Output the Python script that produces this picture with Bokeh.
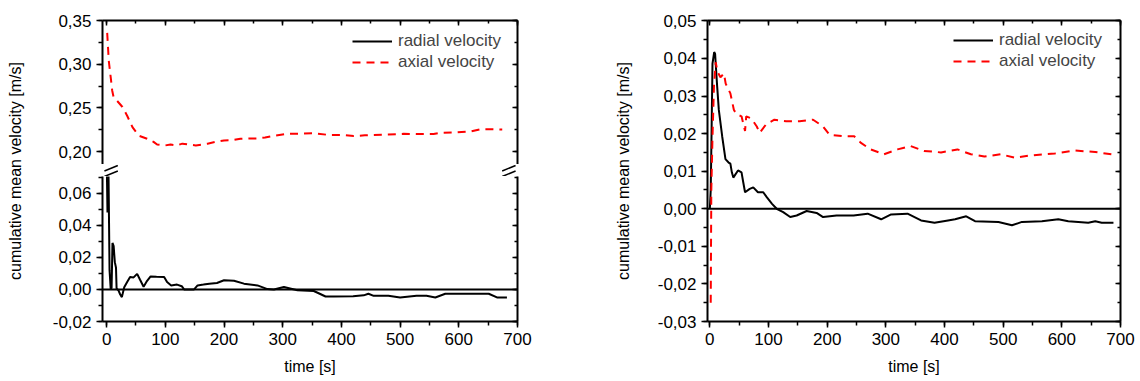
from bokeh.plotting import figure
from bokeh.layouts import row, column
from bokeh.models import (Range1d, LinearAxis, SingleIntervalTicker, CustomJSTickFormatter,
                          Span, Legend, LegendItem)
from bokeh.embed import file_html
from bokeh.resources import INLINE

# ---------------- data ----------------
# left panel, axial velocity [m/s]
t_ax_L = [1, 3.7, 7, 9.5, 12, 18, 27, 35, 44, 55, 69, 80, 86, 100, 109, 120, 129, 140,
          152, 162, 172, 185, 200, 215, 228, 245, 257, 270, 285, 308, 330, 353, 378, 400,
          421, 440, 455, 480, 506, 530, 557, 569, 595, 620, 637, 655, 674]
v_ax_L = [0.336, 0.304, 0.285, 0.270, 0.262, 0.258, 0.251, 0.241, 0.228, 0.218, 0.2146,
          0.211, 0.208, 0.207, 0.208, 0.207, 0.209, 0.208, 0.207, 0.208, 0.209, 0.211,
          0.2127, 0.213, 0.2146, 0.215, 0.215, 0.216, 0.218, 0.2203, 0.2205, 0.221, 0.219,
          0.219, 0.2177, 0.2185, 0.219, 0.2195, 0.2203, 0.220, 0.220, 0.2215, 0.222, 0.223,
          0.2256, 0.2255, 0.2253]
# left panel, radial velocity [m/s]
t_rad_L = [0, 1.5, 3, 5, 7, 8.5, 10, 12, 14, 16, 17, 20, 23, 26, 30, 35, 40, 46, 52, 57,
           63, 68, 75, 85, 98, 103, 110, 120, 128, 132, 140, 149, 155, 165, 175, 188, 200,
           217, 234, 257, 274, 285, 302, 325, 353, 373, 387, 420, 438, 446, 455, 480, 500,
           528, 545, 560, 577, 620, 651, 665, 682]
v_rad_L = [0.085, 0.048, 0.08, 0.012, 0.0, 0.001, 0.029, 0.027, 0.017, 0.0135, 0.0006,
           -0.0005, -0.003, -0.0048, 0.0013, 0.0046, 0.0077, 0.0075, 0.0097, 0.006, 0.0017,
           0.0048, 0.0081, 0.0079, 0.0077, 0.0046, 0.0025, 0.003, 0.002, 0.0, 0.0, 0.0,
           0.0025, 0.003, 0.0036, 0.004, 0.0057, 0.0054, 0.0036, 0.0025, 0.0002, 0.0,
           0.0015, -0.0005, -0.001, -0.0044, -0.0044, -0.0042, -0.0037, -0.0027, -0.004,
           -0.004, -0.005, -0.004, -0.004, -0.005, -0.0027, -0.0027, -0.0027, -0.005, -0.005]
# right panel, radial velocity [m/s]
t_rad_R = [0, 1.5, 3, 4.5, 7.4, 9, 10, 12.5, 15.3, 21, 26.6, 32, 35, 37.5, 40, 48, 54, 57,
           60, 68, 74, 82, 91, 97, 106, 114, 125, 137, 148, 165, 182, 193, 216, 245, 269,
           292, 309, 337, 360, 383, 406, 418, 437, 452, 492, 515, 532, 566, 594, 611, 645,
           657, 668, 688]
v_rad_R = [0.0, 0.005, 0.021, 0.0386, 0.0417, 0.0412, 0.0386, 0.0325, 0.0263, 0.0193,
           0.0132, 0.0123, 0.012, 0.0097, 0.0083, 0.0102, 0.0097, 0.007, 0.0044, 0.0053,
           0.0057, 0.0044, 0.0044, 0.0031, 0.0013, 0.0, -0.0009, -0.0022, -0.0018, -0.0006,
           -0.0011, -0.0022, -0.0018, -0.0018, -0.0013, -0.0028, -0.0015, -0.0013, -0.0031,
           -0.0037, -0.0031, -0.0028, -0.002, -0.0033, -0.0035, -0.0044, -0.0035, -0.0033,
           -0.0028, -0.0033, -0.0037, -0.0033, -0.0037, -0.0037]
# right panel, axial velocity [m/s]
t_ax_R = [1.5, 2.5, 4.5, 7, 10, 13, 18, 24, 27, 35, 41, 46, 54, 60, 62, 71, 80, 85, 96,
          110, 130, 153, 176, 193, 204, 227, 246, 257, 274, 297, 320, 342, 365, 394, 422,
          445, 468, 496, 519, 548, 588, 622, 657, 685]
v_ax_R = [-0.025, 0.005, 0.019, 0.0325, 0.039, 0.0365, 0.035, 0.036, 0.0333, 0.0307,
          0.0263, 0.0251, 0.0246, 0.0207, 0.0246, 0.024, 0.0219, 0.0202, 0.0225, 0.0237,
          0.0233, 0.0233, 0.0237, 0.0219, 0.0197, 0.0193, 0.0193, 0.0176, 0.0158, 0.0145,
          0.0158, 0.0167, 0.0154, 0.015, 0.0158, 0.0145, 0.0139, 0.0145, 0.0136, 0.0142,
          0.0147, 0.0155, 0.0151, 0.0145]

series_labels = ["radial velocity", "axial velocity"]
x_label = "time [s]"
y_label = "cumulative mean velocity [m/s]"

# ---------------- styling ----------------
FONT = "Liberation Sans"
TICK_FS = "17px"
LABEL_FS = "16px"
LEGEND_FS = "17px"
DASH = "8 6"
LW = 2

COMMA_FMT = """
if (Math.abs(tick) < 1e-9) { return '0,00'; }
return tick.toFixed(2).replace('.', ',');
"""


def style_axis(ax, interval, mirror, fmt_code=None):
    ax.ticker = SingleIntervalTicker(interval=interval, num_minor_ticks=2)
    ax.axis_line_color = "black"
    ax.axis_line_width = 2
    ax.major_tick_line_color = "black"
    ax.minor_tick_line_color = "black"
    ax.major_tick_line_width = 1.5
    ax.minor_tick_line_width = 1.5
    if mirror:
        ax.major_tick_in = 5
        ax.major_tick_out = 0
        ax.minor_tick_in = 3
        ax.minor_tick_out = 0
        ax.major_label_text_color = None
        ax.major_label_text_font_size = "1px"
        ax.major_label_standoff = 0
    else:
        ax.major_tick_in = 0
        ax.major_tick_out = 6
        ax.minor_tick_in = 0
        ax.minor_tick_out = 4
        ax.major_label_text_font = FONT
        ax.major_label_text_font_size = TICK_FS
        ax.major_label_text_color = "black"
        ax.major_label_standoff = 5
        ax.axis_label_text_font = FONT
        ax.axis_label_text_font_size = LABEL_FS
        ax.axis_label_text_font_style = "normal"
        ax.axis_label_text_color = "black"
        if fmt_code:
            ax.formatter = CustomJSTickFormatter(code=fmt_code)


def base_fig(**kw):
    p = figure(output_backend="svg", toolbar_location=None, **kw)
    p.outline_line_color = None
    p.xgrid.visible = False
    p.ygrid.visible = False
    p.background_fill_color = "white"
    p.border_fill_color = "white"
    return p


def add_legend(p, r_rad, r_ax, loc):
    leg = Legend(items=[LegendItem(label=series_labels[0], renderers=[r_rad]),
                        LegendItem(label=series_labels[1], renderers=[r_ax])],
                 location=loc)
    leg.border_line_color = None
    leg.background_fill_alpha = 0
    leg.label_text_font = FONT
    leg.label_text_font_size = LEGEND_FS
    leg.glyph_width = 40
    leg.glyph_height = 20
    leg.label_height = 20
    leg.label_standoff = 6
    leg.spacing = 1
    leg.padding = 0
    leg.margin = 0
    p.add_layout(leg)


# ---------------- y label of the left panel (spans the stacked figures) ----------------
LAB_W = 40
lab = base_fig(width=LAB_W, height=381, x_range=(0, 1), y_range=(0, 1),
               x_axis_location=None, min_border_left=23, min_border_right=0,
               min_border_top=20, min_border_bottom=60)
lab_ax = lab.yaxis[0]
lab_ax.axis_label = y_label
lab_ax.axis_label_text_font = FONT
lab_ax.axis_label_text_font_size = LABEL_FS
lab_ax.axis_label_text_font_style = "normal"
lab_ax.axis_label_text_color = "black"
lab_ax.axis_label_standoff = 0
lab_ax.axis_line_color = None
lab_ax.major_tick_out = 0
lab_ax.major_tick_in = 0
lab_ax.minor_tick_out = 0
lab_ax.minor_tick_in = 0
lab_ax.major_label_text_color = None
lab_ax.major_label_text_font_size = "1px"
lab_ax.major_label_standoff = 0

# ---------------- left panel: broken y axis (upper / gap / lower figures) ----------------
xr_L = Range1d(-7, 700)
LEFT_W = 530
LB, RB = 62, 53
FRAME_W_L = 415.0
UP_H, GAP_H = 164, 12
LO_H = 381 - UP_H - GAP_H

up = base_fig(width=LEFT_W, height=UP_H, x_range=xr_L, y_range=Range1d(0.1851, 0.3502),
              x_axis_location=None, min_border_left=LB, min_border_right=RB,
              min_border_top=20, min_border_bottom=0)
style_axis(up.yaxis[0], 0.05, False, COMMA_FMT)
ax_top = LinearAxis()
style_axis(ax_top, 100, True)
up.add_layout(ax_top, "above")
ax_r = LinearAxis()
style_axis(ax_r, 0.05, True)
up.add_layout(ax_r, "right")
ru_rad = up.line(t_rad_L, v_rad_L, line_color="black", line_width=LW)
ru_ax = up.line(t_ax_L, v_ax_L, line_color="red", line_width=LW, line_dash=DASH)
add_legend(up, ru_rad, ru_ax, (250, 92))

# gap strip carrying the "//" axis-break marks (pixel-based decoration)
EXT = 9  # pixels the strip extends beyond the frame on each side
px_x = FRAME_W_L / (xr_L.end - xr_L.start)
gap = base_fig(width=LEFT_W, height=GAP_H,
               x_range=Range1d(xr_L.start - EXT / px_x, xr_L.end + EXT / px_x),
               y_range=Range1d(0, GAP_H), x_axis_location=None, y_axis_location=None,
               min_border_left=LB - EXT, min_border_right=RB - EXT,
               min_border_top=0, min_border_bottom=0)
break_dx = [-7, 7]          # slash horizontal extent around the axis, px
break_rows = [(1.0, 6.5), (6.5, 12.0)]   # (upper end, lower end) of each slash, px from strip top
xs0, ys0, xs1, ys1 = [], [], [], []
for axis_val in (xr_L.start, xr_L.end):
    for top_px, bot_px in break_rows:
        xs0.append(axis_val + break_dx[0] / px_x)
        ys0.append(GAP_H - bot_px)
        xs1.append(axis_val + break_dx[1] / px_x)
        ys1.append(GAP_H - top_px)
gap.segment(x0=xs0, y0=ys0, x1=xs1, y1=ys1, line_color="black", line_width=1.5)

lo = base_fig(width=LEFT_W, height=LO_H, x_range=xr_L, y_range=Range1d(-0.02, 0.0704),
              min_border_left=LB, min_border_right=RB, min_border_top=0, min_border_bottom=60)
style_axis(lo.yaxis[0], 0.02, False, COMMA_FMT)
style_axis(lo.xaxis[0], 100, False)
lo.xaxis[0].axis_label = x_label
lo.xaxis[0].axis_label_standoff = 10
ax_r2 = LinearAxis()
style_axis(ax_r2, 0.02, True)
lo.add_layout(ax_r2, "right")
lo.add_layout(Span(location=0, dimension="width", line_color="black", line_width=2))
lo.line(t_rad_L, v_rad_L, line_color="black", line_width=LW)
lo.line(t_ax_L, v_ax_L, line_color="red", line_width=LW, line_dash=DASH)

# ---------------- right panel ----------------
xr_R = Range1d(-4, 700)
RP_W = 1140 - LAB_W - LEFT_W
rp = base_fig(width=RP_W, height=381, x_range=xr_R, y_range=Range1d(-0.03, 0.0501),
              min_border_left=707 - LAB_W - LEFT_W, min_border_right=20, min_border_top=17,
              min_border_bottom=60)
style_axis(rp.yaxis[0], 0.01, False, COMMA_FMT)
rp.yaxis[0].axis_label = y_label
rp.yaxis[0].axis_label_standoff = 23
style_axis(rp.xaxis[0], 100, False)
rp.xaxis[0].axis_label = x_label
rp.xaxis[0].axis_label_standoff = 10
a1 = LinearAxis()
style_axis(a1, 100, True)
rp.add_layout(a1, "above")
a2 = LinearAxis()
style_axis(a2, 0.01, True)
rp.add_layout(a2, "right")
rp.add_layout(Span(location=0, dimension="width", line_color="black", line_width=2))
rr_rad = rp.line(t_rad_R, v_rad_R, line_color="black", line_width=LW)
rr_ax = rp.line(t_ax_R, v_ax_R, line_color="red", line_width=LW, line_dash=DASH)
add_legend(rp, rr_rad, rr_ax, (246, 250))

layout = row(lab, column(up, gap, lo, spacing=0), rp, spacing=0)

open("out.html", "w").write(file_html(layout, INLINE))
